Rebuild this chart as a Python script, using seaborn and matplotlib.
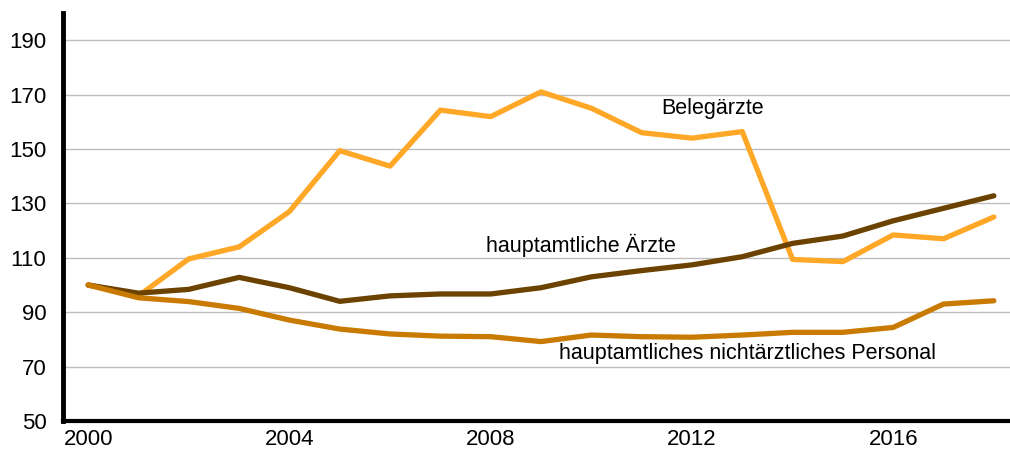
import numpy as np
import pandas as pd
import matplotlib
matplotlib.use("Agg")
import matplotlib.pyplot as plt
import seaborn as sns

# index values 2000 = 100
years = list(range(2000, 2019))
belegaerzte = [100, 96, 109.6, 114, 127, 149.4, 143.7, 164.3, 161.9, 171,
               165, 156, 154, 156.4, 109.4, 108.6, 118.4, 117, 125]
aerzte = [100, 97, 98.4, 102.8, 99, 94, 96, 96.7, 96.7, 99,
          103, 105.3, 107.4, 110.4, 115.3, 118, 123.6, 128.2, 132.8]
personal = [100, 95.3, 93.9, 91.4, 87.1, 83.8, 82, 81.2, 81, 79.2,
            81.6, 81, 80.8, 81.6, 82.6, 82.6, 84.4, 93, 94.2]

names = ["Belegärzte", "hauptamtliche Ärzte",
         "hauptamtliches nichtärztliches Personal"]
colors = ["#FFA726", "#6B4200", "#C97A00"]

df = pd.DataFrame({
    "Jahr": years * 3,
    "Index": belegaerzte + aerzte + personal,
    "Gruppe": [names[0]] * 19 + [names[1]] * 19 + [names[2]] * 19,
})

sns.set_style("white")
plt.rcParams["font.family"] = ["Liberation Sans", "DejaVu Sans"]
plt.rcParams["text.color"] = "black"
plt.rcParams["xtick.color"] = "black"
plt.rcParams["ytick.color"] = "black"

fig = plt.figure(figsize=(10.1, 4.54), dpi=100)
ax = fig.add_axes([63 / 1010, 33 / 454, 956 / 1010, 408 / 454])

sns.lineplot(data=df, x="Jahr", y="Index", hue="Gruppe",
             palette=dict(zip(names, colors)), linewidth=3.8,
             legend=False, ax=ax)

ax.set_xlim(1999.5, 2018.5)
ax.set_ylim(50, 200)
ax.set_yticks(range(50, 200, 20))
ax.yaxis.grid(True, color="#BDBDBD", linewidth=1)
ax.set_axisbelow(True)

ax.set_xticks([2000, 2004, 2008, 2012, 2016])
ax.set_xticks(np.arange(1999.5, 2019, 1), minor=True)
ax.tick_params(axis="x", which="major", length=0, labelsize=16, pad=6)
ax.tick_params(axis="x", which="minor", length=5, width=3, color="black",
               direction="out")
ax.tick_params(axis="y", length=0, labelsize=16, pad=12)
ax.set_xlabel("")
ax.set_ylabel("")

for s in ["top", "right"]:
    ax.spines[s].set_visible(False)
ax.spines["left"].set_linewidth(3.5)
ax.spines["bottom"].set_linewidth(3)
ax.spines["left"].set_color("black")
ax.spines["bottom"].set_color("black")

ax.text(2012.4, 165, names[0], fontsize=15.5, ha="center", va="center")
ax.text(2009.8, 114.5, names[1], fontsize=15.5, ha="center", va="center")
ax.text(2013.1, 75, names[2], fontsize=15.5, ha="center", va="center")

fig.savefig("out.png", dpi=100)
